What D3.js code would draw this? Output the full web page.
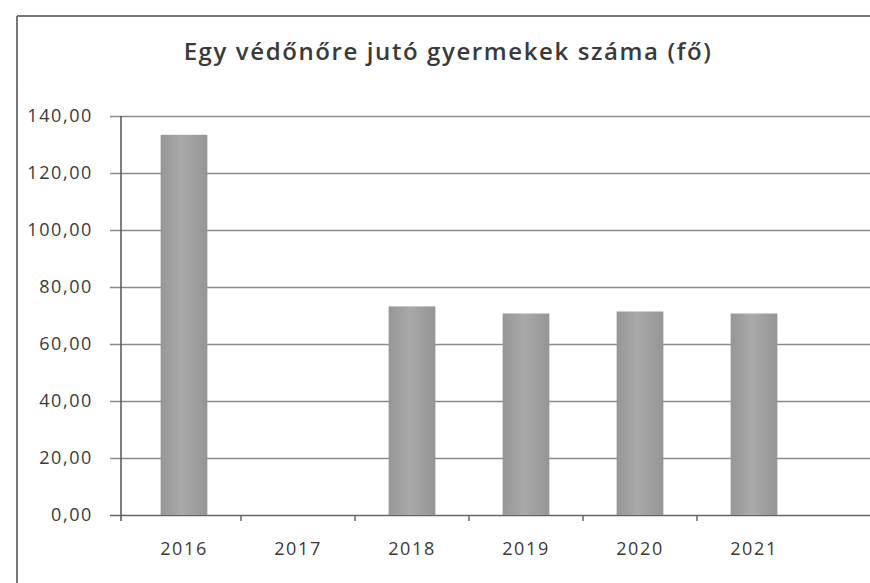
<html>
<head>
<script src="https://cdn.jsdelivr.net/npm/d3@7"></script>
<style type="text/css">
body{ margin: 0; background: #fff; overflow: hidden; }
svg{ display: block; }
text{ font-family: "Open Sans", sans-serif; fill: #3a3a3a; }
</style>
</head>
<body>
<script type="text/javascript">
var width = 870,
    height = 583;

var years = ['2016', '2017', '2018', '2019', '2020', '2021'];
var values = [133.4, 0, 73.2, 70.7, 71.4, 70.7];
var yTicks = [0, 20, 40, 60, 80, 100, 120, 140];
var title = 'Egy védőnőre jutó gyermekek száma (fő)';

var svg = d3.select('body')
    .append('svg')
        .attr('width', width)
        .attr('height', height);

var defs = svg.append('defs');
var grad = defs.append('linearGradient').attr('id', 'bar')
    .attr('x1', 0).attr('x2', 1).attr('y1', 0).attr('y2', 0);
grad.append('stop').attr('offset', '0%').attr('stop-color', '#969696');
grad.append('stop').attr('offset', '45%').attr('stop-color', '#a9a9a9');
grad.append('stop').attr('offset', '100%').attr('stop-color', '#959595');

// chart frame
svg.append('line')
    .attr('x1', 17).attr('x2', width).attr('y1', 16).attr('y2', 16)
    .attr('stroke', '#777').attr('stroke-width', 2);
svg.append('line')
    .attr('x1', 17).attr('x2', 17).attr('y1', 16).attr('y2', height)
    .attr('stroke', '#777').attr('stroke-width', 2);

svg.append('text')
    .attr('x', 448)
    .attr('y', 60)
    .attr('text-anchor', 'middle')
    .style('font-size', '24px')
    .style('font-weight', 600)
    .style('letter-spacing', '1.6px')
    .text(title);

var x = d3.scaleBand()
    .domain(years)
    .range([127, 811])
    .paddingInner(0.59)
    .paddingOuter(0.295);

var y = d3.scaleLinear()
    .domain([0, 140])
    .range([515, 116]);

// gridlines, drawn from the scale
svg.selectAll('line.grid')
    .data(yTicks)
    .enter()
    .append('line')
        .attr('class', 'grid')
        .attr('x1', 110)
        .attr('x2', width)
        .attr('y1', function(d){ return Math.round(y(d)) + 0.5; })
        .attr('y2', function(d){ return Math.round(y(d)) + 0.5; })
        .attr('stroke', function(d){ return d === 0 ? '#666' : '#8a8a8a'; })
        .attr('stroke-width', 1.5);

svg.selectAll('text.ylab')
    .data(yTicks)
    .enter()
    .append('text')
        .attr('class', 'ylab')
        .attr('x', 93)
        .attr('y', function(d){ return y(d); })
        .attr('dy', '0.35em')
        .attr('text-anchor', 'end')
        .style('font-size', '18px')
        .style('letter-spacing', '1.6px')
        .text(function(d){ return d3.format('.2f')(d).replace('.', ','); });

// y axis line
svg.append('line')
    .attr('x1', 121).attr('x2', 121).attr('y1', 116).attr('y2', 521)
    .attr('stroke', '#555').attr('stroke-width', 1.5);

// bars
svg.selectAll('rect.bar')
    .data(values)
    .enter()
    .append('rect')
        .attr('class', 'bar')
        .attr('x', function(d, i){ return x(years[i]); })
        .attr('width', x.bandwidth())
        .attr('y', function(d){ return y(d); })
        .attr('height', function(d){ return y(0) - y(d); })
        .attr('fill', 'url(#bar)');

// small ticks between categories
var bounds = years.slice(1).map(function(d){ return x(d) - x.step() * x.paddingInner() / 2; });
svg.selectAll('line.xtick')
    .data(bounds)
    .enter()
    .append('line')
        .attr('class', 'xtick')
        .attr('x1', function(d){ return d; })
        .attr('x2', function(d){ return d; })
        .attr('y1', y(0))
        .attr('y2', y(0) + 6)
        .attr('stroke', '#666').attr('stroke-width', 1.5);

svg.selectAll('text.xlab')
    .data(years)
    .enter()
    .append('text')
        .attr('class', 'xlab')
        .attr('x', function(d){ return x(d) + x.bandwidth() / 2; })
        .attr('y', 555)
        .attr('text-anchor', 'middle')
        .style('font-size', '18px')
        .style('letter-spacing', '1.6px')
        .text(function(d){ return d; });
</script>
</body>
</html>
